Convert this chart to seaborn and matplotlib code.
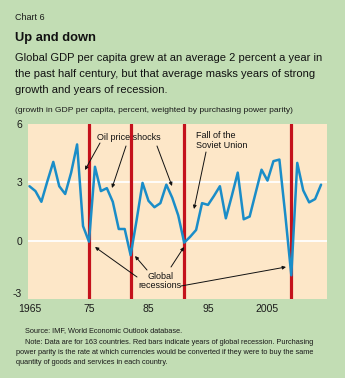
import matplotlib
matplotlib.use("Agg")
import matplotlib.pyplot as plt
import matplotlib.patches as mpatches
import seaborn as sns
import pandas as pd

years = list(range(1965, 2015))
growth = [2.8, 2.55, 2.0, 3.05, 4.05, 2.8, 2.4, 3.5, 4.95, 0.75,
          -0.05, 3.8, 2.55, 2.7, 2.0, 0.6, 0.6, -0.75, 1.05, 2.97,
          2.05, 1.72, 1.93, 2.88, 2.2, 1.3, -0.1, 0.2, 0.55, 1.93,
          1.84, 2.3, 2.8, 1.15, 2.3, 3.5, 1.1, 1.24, 2.45, 3.65,
          3.09, 4.09, 4.17, 1.3, -1.78, 4.0, 2.59, 1.97, 2.14, 2.88]
recession_years = [1975, 1982, 1991, 2009]
ytick_vals = [-3, 0, 3, 6]
ytick_labels = ["-3", "0", "3", "6"]
xtick_major = [1965, 1975, 1985, 1995, 2005]
xtick_labels = ["1965", "75", "85", "95", "2005"]

GREEN = "#c2ddb4"
PEACH = "#fde7c8"
BLUE = "#1a8dc8"
RED = "#c4121c"
INK = "#1a1a1a"

sns.set_style("white")
plt.rcParams['font.family'] = ['Liberation Sans', 'DejaVu Sans']

W, H = 345, 378
fig = plt.figure(figsize=(W / 100, H / 100), dpi=100, facecolor=GREEN)

def fx(px):
    return px / W

def fy(py):
    return 1 - py / H

ax = fig.add_axes([fx(27.7), fy(299), (326.7 - 27.7) / W, (299 - 124) / H])
ax.set_facecolor(PEACH)
for s in ax.spines.values():
    s.set_visible(False)

df = pd.DataFrame({"year": years, "growth": growth})

for yv in [0, 3]:
    ax.axhline(yv, color="white", lw=1.3, zorder=1)
for ry in recession_years:
    ax.axvline(ry, color=RED, lw=2.3, zorder=2)

sns.lineplot(data=df, x="year", y="growth", ax=ax, color=BLUE, lw=1.8, zorder=3)

ax.set_xlim(1964.7, 2014.95)
ax.set_ylim(-3, 6)
ax.set_xlabel("")
ax.set_ylabel("")
ax.set_yticks(ytick_vals)
ax.set_yticklabels(ytick_labels)
ax.set_xticks(xtick_major)
ax.set_xticklabels(xtick_labels)
ax.set_xticks(years, minor=True)
ax.tick_params(axis="y", length=0, pad=4, labelsize=7.5, labelcolor=INK)
ax.tick_params(axis="x", which="major", direction="in", length=5, width=0.8,
               color="#444444", pad=3.5, labelsize=7.5, labelcolor=INK)
ax.tick_params(axis="x", which="minor", direction="in", length=3, width=0.8,
               color="#444444")
for lab in ax.get_yticklabels():
    if lab.get_text() == "-3":
        lab.set_verticalalignment("bottom")

# Titles
fig.text(fx(15), fy(17), "Chart 6", fontsize=6.5, va="center", ha="left", color=INK)
fig.text(fx(15), fy(38), "Up and down", fontsize=9.3, fontweight="bold",
         va="center", ha="left", color="#111111")
sub = ["Global GDP per capita grew at an average 2 percent a year in",
       "the past half century, but that average masks years of strong",
       "growth and years of recession."]
for i, line in enumerate(sub):
    fig.text(fx(15), fy(58 + 16 * i), line, fontsize=8.0, va="center", ha="left", color="#111111")
fig.text(fx(15), fy(110), "(growth in GDP per capita, percent, weighted by purchasing power parity)",
         fontsize=6.1, va="center", ha="left", color=INK)

# Footer
fig.text(fx(25), fy(331), "Source: IMF, World Economic Outlook database.",
         fontsize=5.3, va="center", ha="left", color=INK)
foot = [(25, 342, "Note: Data are for 163 countries. Red bars indicate years of global recession. Purchasing"),
        (16, 352, "power parity is the rate at which currencies would be converted if they were to buy the same"),
        (16, 362, "quantity of goods and services in each country.")]
for x0, y0, t in foot:
    fig.text(fx(x0), fy(y0), t, fontsize=5.3, va="center", ha="left", color=INK)

# Annotations
akw = dict(arrowstyle="-|>", color="#111111", lw=0.7, mutation_scale=5, shrinkA=0, shrinkB=0)

def arrow(x0, y0, x1, y1):
    fig.add_artist(mpatches.FancyArrowPatch((fx(x0), fy(y0)), (fx(x1), fy(y1)),
                                            transform=fig.transFigure, **akw))

fig.text(fx(129), fy(137), "Oil price shocks", fontsize=6.5, ha="center", va="center", color="#111111")
for a in [(100, 143, 85, 170), (126, 146, 112, 188), (157, 146, 172, 186)]:
    arrow(*a)
fig.text(fx(160), fy(281), "Global\nrecessions", fontsize=6.5, ha="center", va="center",
         linespacing=1.1, color="#111111")
for a in [(137, 277, 95, 247), (147, 270, 135, 256), (171, 267, 184, 247), (181, 286, 286, 267)]:
    arrow(*a)
fig.text(fx(196), fy(140.5), "Fall of the\nSoviet Union", fontsize=6.5, ha="left", va="center",
         linespacing=1.1, color="#111111")
arrow(206, 152, 194, 209)

fig.savefig("out.png", dpi=100, facecolor=GREEN)
